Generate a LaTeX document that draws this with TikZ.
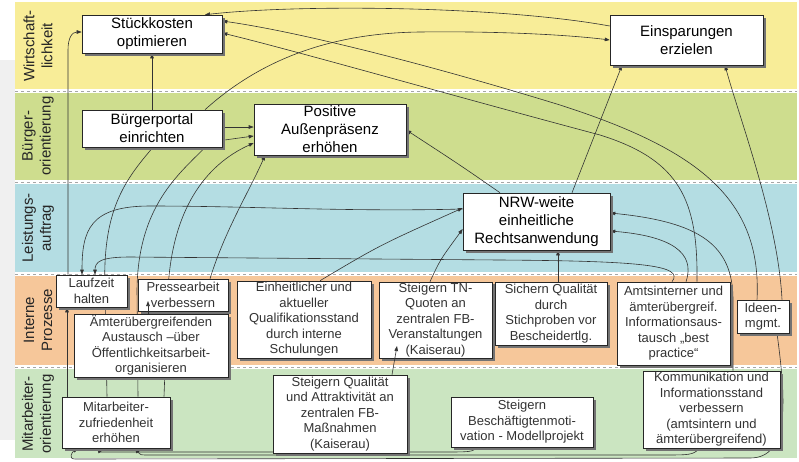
\documentclass[tikz,border=0pt]{standalone}
\usepackage{fontspec}
\setmainfont{Liberation Sans}
\usetikzlibrary{arrows.meta,shadows}
\pgfdeclarelayer{bands}
\pgfdeclarelayer{links}
\pgfsetlayers{bands,links,main}
\definecolor{wirtgelb}{RGB}{248,237,152}
\definecolor{buergruen}{RGB}{206,221,142}
\definecolor{leistblau}{RGB}{180,221,227}
\definecolor{prozorange}{RGB}{246,199,154}
\definecolor{mitagruen}{RGB}{203,229,193}
\begin{document}
\begin{tikzpicture}[x=1pt,y=-1pt,
    box/.style={draw=black!85, fill=white, line width=0.6pt, align=center, inner sep=1pt,
      drop shadow={shadow xshift=2.5pt, shadow yshift=-2.5pt, fill=black!55, opacity=1}},
    bigbox/.style={box, font=\fontsize{15}{18}\selectfont},
    smallbox/.style={box, font=\fontsize{13}{15.5}\selectfont, text=black!80},
    lbl/.style={rotate=90, align=center, font=\fontsize{15}{18}\selectfont, text=black!85},
    link/.style={draw=black!80, line width=0.6pt, -{Triangle[length=5pt,width=3.6pt]}},
    trenner/.style={draw=black!35, dashed, line width=0.6pt}]
\useasboundingbox (0,0) rectangle (799,461);

% Perspektiven
\begin{pgfonlayer}{bands}
  \fill[white] (0,0) rectangle (799,461);
  \fill[black!6] (0,60) rectangle (15,440);
  \fill[wirtgelb] (15,2) rectangle (797,89);
  \fill[buergruen] (15,93) rectangle (797,180);
  \fill[leistblau] (15,184) rectangle (797,272);
  \fill[prozorange] (15,276) rectangle (797,365);
  \fill[mitagruen] (15,369) rectangle (797,458);
  \foreach \y in {91,182,274,367}
    \draw[trenner] (15,\y) -- (797,\y);
  \node[lbl] (lwirt) at (38,46) {Wirtschaft-\\lichkeit};
  \node[lbl] (lbuerger) at (38,136) {Bürger-\\orientierung};
  \node[lbl] (lleist) at (38,228) {Leistungs-\\auftrag};
  \node[lbl] (lproz) at (38,320) {Interne\\Prozesse};
  \node[lbl] (lmita) at (38,414) {Mitarbeiter-\\orientierung};
\end{pgfonlayer}

% Ziele
\node[bigbox, minimum width=140pt, minimum height=38pt] (stueck) at (152,34) {Stückkosten\\optimieren};
\node[bigbox, minimum width=153pt, minimum height=50pt] (einsp) at (686.5,40) {Einsparungen\\erzielen};
\node[bigbox, minimum width=140pt, minimum height=37pt] (portal) at (152,128.5) {Bürgerportal\\einrichten};
\node[bigbox, minimum width=152pt, minimum height=51pt] (aussen) at (330,129.5) {Positive\\Außenpräsenz\\erhöhen};
\node[bigbox, minimum width=147pt, minimum height=57pt] (nrw) at (536.5,221.5) {NRW-weite\\einheitliche\\Rechtsanwendung};
\node[smallbox, minimum width=71pt, minimum height=32pt] (lauf) at (91.5,291) {Laufzeit\\halten};
\node[smallbox, minimum width=90pt, minimum height=32pt] (presse) at (183,295) {Pressearbeit\\verbessern};
\node[smallbox, minimum width=154pt, minimum height=63pt] (aemter) at (151,345.5) {Ämterübergreifenden\\Austausch –über\\Öffentlichkeitsarbeit-\\organisieren};
\node[smallbox, minimum width=134pt, minimum height=77pt] (quali) at (304,319.5) {Einheitlicher und\\aktueller\\Qualifikationsstand\\durch interne\\Schulungen};
\node[smallbox, minimum width=113pt, minimum height=76pt] (tnquote) at (435.5,320) {Steigern TN-\\Quoten an\\zentralen FB-\\Veranstaltungen\\(Kaiserau)};
\node[smallbox, minimum width=112pt, minimum height=63pt] (sichern) at (551,313.5) {Sichern Qualität\\durch\\Stichproben vor\\Bescheidertlg.};
\node[smallbox, minimum width=113pt, minimum height=83pt] (amts) at (673.5,323.5) {Amtsinterner und\\ämterübergreif.\\Informationsaus-\\tausch „best\\practice“};
\node[smallbox, minimum width=52pt, minimum height=33pt] (ideen) at (763,316.5) {Ideen-\\mgmt.};
\node[smallbox, minimum width=108pt, minimum height=51pt] (mitzuf) at (116,422.5) {Mitarbeiter-\\zufriedenheit\\erhöhen};
\node[smallbox, minimum width=134pt, minimum height=78pt] (fbmass) at (340,414) {Steigern Qualität\\und Attraktivität an\\zentralen FB-\\Maßnahmen\\(Kaiserau)};
\node[smallbox, minimum width=142pt, minimum height=50pt] (motiv) at (522,422) {Steigern\\Beschäftigtenmoti-\\vation - Modellprojekt};
\node[smallbox, minimum width=137pt, minimum height=77pt] (kommu) at (711.5,409.5) {Kommunikation und\\Informationsstand\\verbessern\\(amtsintern und\\ämterübergreifend)};

% Wirkungen (hinter den Kaesten)
\begin{pgfonlayer}{links}
  \draw[link] (einsp.west |- 0,26) .. controls (500,6) and (300,4) .. (205,0 |- stueck.north);
  \draw[link] (205,0 |- portal.north) .. controls (260,60) and (330,33) .. (420,32) .. controls (500,31) and (570,35) .. (einsp.west |- 0,40);
  \draw[link] (757,0 |- ideen.north) .. controls (762,200) and (700,150) .. (560,105) .. controls (430,65) and (300,32) .. (stueck.east |- 0,21);
  \draw[link] (697,0 |- amts.north) .. controls (698,200) and (680,160) .. (600,135) .. controls (450,95) and (300,52) .. (stueck.east |- 0,33);
  \draw[link] (782,0 |- ideen.north) .. controls (778,220) and (740,120) .. (725,0 |- einsp.south);
  \draw[link] (portal.north) -- (stueck.south);
  \draw[link] (portal.east |- 0,127) -- (aussen.west |- 0,127);
  \draw[link] (138,0 |- mitzuf.north) -- (137,290) .. controls (138,200) and (185,170) .. (210,142) -- (aussen.west |- 0,136);
  \draw[link, -] (107,0 |- mitzuf.north) -- (105,290) .. controls (102,210) and (125,180) .. (153,0 |- portal.south);
  \draw[link] (164,0 |- mitzuf.north) -- (168,290) .. controls (172,210) and (205,165) .. (aussen.west |- 0,143);
  \draw[link] (210,0 |- presse.north) .. controls (225,230) and (250,190) .. (265,0 |- aussen.south);
  \draw[link] (67,0 |- mitzuf.north) -- (67,0 |- lauf.south);
  \draw[link] (68,0 |- lauf.north) -- (68,50) .. controls (68,38) and (72,32) .. (stueck.west |- 0,32);
  \draw[link] (nrw.west |- 0,209) .. controls (350,212) and (250,206) .. (150,206) .. controls (90,206) and (82,230) .. (82,0 |- lauf.north);
  \draw[link] (672,0 |- amts.north) .. controls (685,265) and (640,261) .. (500,260) -- (130,257) .. controls (100,257) and (95,262) .. (95,0 |- lauf.north);
  \draw[link] (320,0 |- quali.north) .. controls (380,245) .. (nrw.west |- 0,208);
  \draw[link] (430,0 |- tnquote.north) .. controls (440,260) .. (nrw.west |- 0,229);
  \draw[link] (558,0 |- sichern.north) -- (558,0 |- nrw.south);
  \draw[link] (500,0 |- nrw.north) .. controls (460,165) .. (aussen.east |- 0,130);
  \draw[link] (572,0 |- nrw.north) -- (622,0 |- einsp.south);
  \draw[link] (733,0 |- kommu.north) -- (733,300) .. controls (733,245) and (700,222) .. (nrw.east |- 0,213);
  \draw[link] (686,0 |- amts.north) .. controls (696,252) and (670,236) .. (nrw.east |- 0,231);
  \draw[link] (777,0 |- ideen.south) .. controls (786,400) and (790,458) .. (750,458) -- (75,459) .. controls (68,459) and (72,452) .. (78,0 |- mitzuf.south);
  \draw[link] (477,0 |- motiv.south) .. controls (472,452) .. (440,452) -- (110,452) .. controls (100,452) .. (97,0 |- mitzuf.south);
  \draw[link] (700,0 |- kommu.south) .. controls (692,455) .. (660,455) -- (150,455) .. controls (140,455) .. (135,0 |- mitzuf.south);
\end{pgfonlayer}

% kurze Pfeile ueber den Kaesten
\draw[link] (148,0 |- aemter.north) -- (148,301);
\draw[link] (392,0 |- fbmass.north) -- (397,346);
\end{tikzpicture}
\end{document}
